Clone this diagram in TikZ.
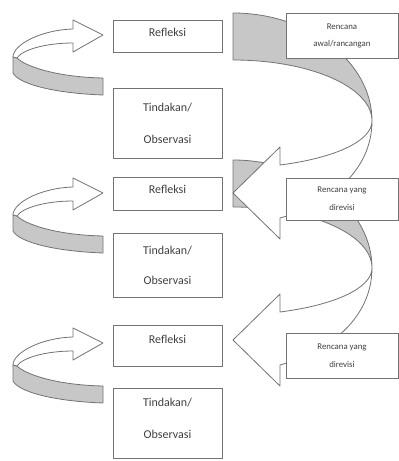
\documentclass[tikz,border=0pt]{standalone}
\usepackage{fontspec}
\setmainfont{Carlito}
\usepackage{tikz}

\tikzset{
  box/.style={draw=black!55, fill=white, line width=0.8pt, inner sep=0pt, align=center,
    text=black!75, font=\fontsize{12}{18}\selectfont},
  planbox/.style={box, minimum width=112pt, font=\fontsize{8.8}{18}\selectfont},
  band/.style={draw=black!55, fill=black!22, line width=0.8pt, line join=round},
  face/.style={draw=black!55, fill=white, line width=0.8pt, line join=round},
}

\begin{document}
\begin{tikzpicture}[x=1pt,y=-1pt]
		\useasboundingbox (0,0) rectangle (399,461);

		% Big turning arrows on the right (lower one first)
		\foreach \t in {160,13}{
			\begin{scope}[shift={(0,\t)}]
				\filldraw[band] (233,0) .. controls (309,0) and (372,49) .. (372,108)
					.. controls (372,74) and (310,47) .. (233,47) -- cycle;
				\filldraw[face] (372,108) .. controls (372,128) and (335,145) .. (280,152)
					-- (280,134) -- (233,180) -- (280,226) -- (280,205)
					.. controls (335,190) and (372,154) .. (372,108) -- cycle;
			\end{scope}
		}

		% Small turning arrows on the left
		\foreach \t in {20,178,328}{
			\begin{scope}[shift={(0,\t)}]
				\filldraw[band] (13,37) -- (13,53) .. controls (18,63) and (50,73) .. (103,75)
					-- (103,58) .. controls (55,57) and (25,46) .. (17,38) -- cycle;
				\filldraw[face] (13,37) .. controls (13,25) and (40,10) .. (73,9)
					-- (73,0) -- (103,15) -- (73,32) -- (73,23)
					.. controls (45,23) and (22,30) .. (17,38) -- cycle;
			\end{scope}
		}

		% Cycle boxes
		\node[box, minimum width=109pt, minimum height=32pt, text depth=7pt] (refl1) at (167.5,36) {Refleksi};
		\node[box, minimum width=109pt, minimum height=70pt, font=\fontsize{12}{32}\selectfont] (act1) at (167.5,123) {Tindakan/\\Observasi};
		\node[box, minimum width=109pt, minimum height=33pt, text depth=9pt] (refl2) at (167.5,193.5) {Refleksi};
		\node[box, minimum width=109pt, minimum height=64pt, font=\fontsize{12}{30}\selectfont] (act2) at (167.5,265) {Tindakan/\\Observasi};
		\node[box, minimum width=109pt, minimum height=41pt, text depth=12pt] (refl3) at (167.5,345.5) {Refleksi};
		\node[box, minimum width=109pt, minimum height=70pt, text depth=10pt, font=\fontsize{12}{32}\selectfont] (act3) at (167.5,423) {Tindakan/\\Observasi};

		% Plan boxes
		\node[planbox, minimum height=45pt, font=\fontsize{8.8}{17}\selectfont] (plan1) at (342,35.5) {Rencana\\awal/rancangan};
		\node[planbox, minimum height=42pt] (plan2) at (342,199) {Rencana yang\\direvisi};
		\node[planbox, minimum height=45pt] (plan3) at (342,355.5) {Rencana yang\\direvisi};

	\end{tikzpicture}
\end{document}
